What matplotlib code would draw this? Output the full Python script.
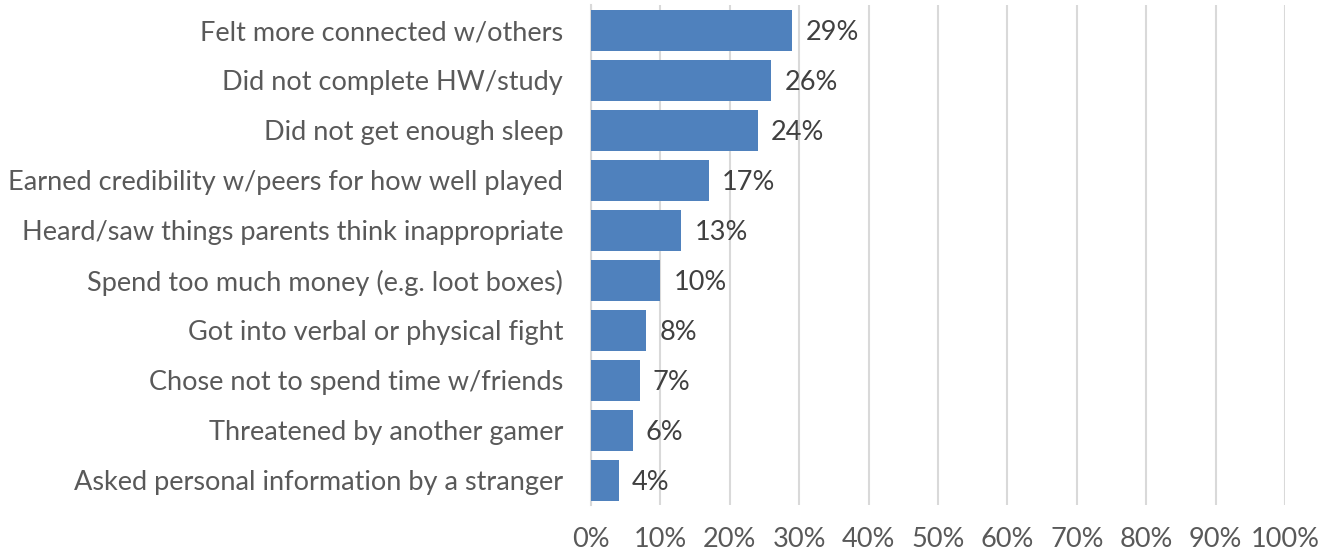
import matplotlib
matplotlib.use('Agg')
import matplotlib.pyplot as plt
from matplotlib.ticker import PercentFormatter

categories = ['Felt more connected w/others', 'Did not complete HW/study', 'Did not get enough sleep',
              'Earned credibility w/peers for how well played', 'Heard/saw things parents think inappropriate',
              'Spend too much money (e.g. loot boxes)', 'Got into verbal or physical fight',
              'Chose not to spend time w/friends', 'Threatened by another gamer',
              'Asked personal information by a stranger']
values = [29, 26, 24, 17, 13, 10, 8, 7, 6, 4]

plt.rcParams['font.family'] = ['Lato', 'DejaVu Sans']

fig = plt.figure(figsize=(13.31, 5.56), dpi=100)
ax = fig.add_axes([0.444, 0.0917, 0.5214, 0.8993])

pos = list(range(len(categories)))[::-1]
ax.barh(pos, values, height=0.82, color='#4F81BD', zorder=3)
for p, v in zip(pos, values):
    ax.text(v + 1.9, p - 0.05, f'{v}%', va='center', ha='left', fontsize=19.5, color='#404040')

ax.set_xlim(0, 100)
ax.set_ylim(-0.5, len(categories) - 0.5)
ax.set_xticks(range(0, 101, 10))
ax.xaxis.set_major_formatter(PercentFormatter(decimals=0))
ax.set_yticks(pos)
ax.set_yticklabels(categories)
ax.tick_params(axis='both', length=0, labelsize=19.5, labelcolor='#595959')
ax.tick_params(axis='x', pad=16)
ax.tick_params(axis='y', pad=20)
ax.grid(axis='x', color='#D9D9D9', linewidth=1.5, zorder=0)
for side in ['top', 'right', 'bottom']:
    ax.spines[side].set_visible(False)
ax.spines['left'].set_color('#D9D9D9')
ax.spines['left'].set_linewidth(1.5)

fig.savefig('out.png', dpi=100)
